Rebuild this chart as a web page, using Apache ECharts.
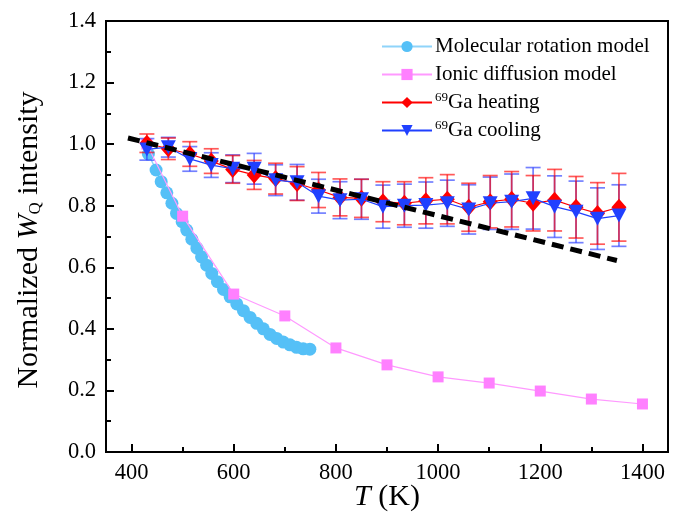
<!DOCTYPE html>
<html><head><meta charset="utf-8">
<script src="https://cdn.jsdelivr.net/npm/echarts@6/dist/echarts.min.js"></script>
<style>html,body{margin:0;padding:0;background:#fff}#c{width:681px;height:521px}</style>
</head><body><div id="c"></div>
<script>
// ---- data ----
const rotT = [433,448,458,469,479,488,499,508,518,528,537,547,557,568,580,593,606,619,632,645,658,671,684,697,710,723,736,749];
const rotV = [0.968,0.916,0.878,0.842,0.808,0.775,0.748,0.721,0.691,0.662,0.634,0.607,0.580,0.553,0.528,0.504,0.481,0.459,0.437,0.418,0.400,0.382,0.369,0.357,0.348,0.340,0.335,0.334];
const ionT = [430,500,600,700,800,900,1000,1100,1200,1300,1400];
const ionV = [1.0,0.766,0.513,0.442,0.338,0.283,0.244,0.224,0.198,0.172,0.156];
const gaT = [430,472,514,556,598,640,682,724,766,808,850,892,934,976,1018,1060,1102,1144,1186,1228,1270,1312,1354];
const heatV = [1.003,0.985,0.968,0.945,0.918,0.900,0.888,0.872,0.851,0.827,0.824,0.813,0.808,0.816,0.821,0.795,0.813,0.821,0.808,0.818,0.795,0.775,0.795];
const heatErr = [0.03,0.035,0.04,0.04,0.045,0.047,0.05,0.055,0.057,0.06,0.062,0.065,0.07,0.075,0.08,0.078,0.085,0.09,0.09,0.1,0.1,0.1,0.11];
const coolV = [0.983,0.990,0.952,0.932,0.920,0.920,0.883,0.876,0.831,0.818,0.821,0.797,0.800,0.802,0.808,0.788,0.808,0.813,0.824,0.797,0.780,0.758,0.768];
const coolErr = [0.035,0.032,0.04,0.04,0.045,0.05,0.05,0.058,0.055,0.06,0.065,0.07,0.07,0.075,0.075,0.08,0.085,0.09,0.1,0.1,0.1,0.1,0.1];
const fitT = [393,1350];
const fitV = [1.02,0.622];
const xMajor = [400,600,800,1000,1200,1400];
const xMinor = [500,700,900,1100,1300];

const FONT = 'Liberation Serif';
const chart = echarts.init(document.getElementById('c'), null, {renderer:'canvas'});

function pairs(xs, ys){ return xs.map((x,i)=>[x, ys[i]]); }
function errData(xs, ys, es){ return xs.map((x,i)=>[x, ys[i]-es[i], ys[i]+es[i]]); }
function errSeries(data, color, z){
  return {
    type:'custom', data:data, z:z, silent:true,
    renderItem:function(params, api){
      const x = api.value(0);
      const lo = api.coord([x, api.value(1)]);
      const hi = api.coord([x, api.value(2)]);
      const w = 7.5;
      const st = {stroke:color, lineWidth:1.7};
      return {type:'group', children:[
        {type:'line', shape:{x1:lo[0],y1:lo[1],x2:hi[0],y2:hi[1]}, style:st},
        {type:'line', shape:{x1:lo[0]-w,y1:lo[1],x2:lo[0]+w,y2:lo[1]}, style:st},
        {type:'line', shape:{x1:hi[0]-w,y1:hi[1],x2:hi[0]+w,y2:hi[1]}, style:st}
      ]};
    }
  };
}

const option = {
  animation:false,
  backgroundColor:'#fff',
  grid:{left:106, right:13, top:21, bottom:69, show:true, borderColor:'#000', borderWidth:2, backgroundColor:'transparent',
        outerBoundsMode:'none', containLabel:false},
  legend:{
    left:376, top:30, orient:'vertical', itemWidth:50, itemHeight:14, itemGap:5,
    data:['Molecular rotation model','Ionic diffusion model','69Ga heating','69Ga cooling'],
    formatter:function(n){
      if(n.indexOf('69')===0) return '{sup|69}{n|'+n.slice(2)+'}';
      return '{n|'+n+'}';
    },
    textStyle:{fontFamily:FONT, fontSize:21, color:'#000', lineHeight:23, padding:[0,0,0,-2],
      rich:{n:{fontFamily:FONT,fontSize:21,color:'#000',lineHeight:23},
            sup:{fontFamily:FONT,fontSize:13,color:'#000',lineHeight:13,verticalAlign:'top'}}}
  },
  xAxis:[{
    type:'value', min:350, max:1450,
    name:'{i|T} (K)', nameLocation:'middle', nameGap:30, nameMoveOverlap:false,
    nameTextStyle:{fontFamily:FONT, fontSize:30, color:'#000',
      rich:{i:{fontFamily:FONT,fontSize:30,fontStyle:'italic',color:'#000'}}},
    axisLine:{show:true, onZero:false, lineStyle:{color:'#000', width:2}},
    axisTick:{show:true, inside:true, length:8, lineStyle:{color:'#000', width:2}, customValues:xMajor},
    axisLabel:{fontFamily:FONT, fontSize:22.5, color:'#000', margin:10, customValues:xMajor, formatter:v=>String(v)},
    splitLine:{show:false}
  },{
    type:'value', min:350, max:1450, position:'bottom', gridIndex:0,
    axisLine:{show:false},
    axisTick:{show:true, inside:true, length:5, lineStyle:{color:'#000', width:2}, customValues:xMinor},
    axisLabel:{show:false, customValues:xMinor},
    splitLine:{show:false}
  }],
  yAxis:{
    type:'value', min:0, max:1.4, interval:0.2,
    axisLine:{show:true, lineStyle:{color:'#000', width:2}},
    axisTick:{show:true, inside:true, length:8, lineStyle:{color:'#000', width:2}},
    minorTick:{show:true, splitNumber:2, length:5, lineStyle:{color:'#000', width:2}},
    axisLabel:{fontFamily:FONT, fontSize:22.5, color:'#000', margin:10, formatter:v=>v.toFixed(1)},
    splitLine:{show:false}
  },
  graphic:[{
    type:'text', x:28, y:240, rotation:Math.PI/2, z:100,
    style:{text:'{n|Normalized }{i|W}{s|Q}{n| intensity}', align:'center', verticalAlign:'middle',
      rich:{n:{fontFamily:FONT,fontSize:30,color:'#000',verticalAlign:'bottom',lineHeight:32},
            i:{fontFamily:FONT,fontSize:30,fontStyle:'italic',color:'#000',verticalAlign:'bottom',lineHeight:32},
            s:{fontFamily:FONT,fontSize:17,color:'#000',verticalAlign:'bottom',lineHeight:32,padding:[10,0,0,0]}}}
  }],
  series:[
    {name:'Molecular rotation model', type:'line', data:pairs(rotT,rotV), symbol:'circle', symbolSize:13,
     itemStyle:{color:'#55c0f7'}, lineStyle:{color:'#8fd4fa', width:1.5}, z:3},
    {name:'Ionic diffusion model', type:'line', data:pairs(ionT,ionV), symbol:'rect', symbolSize:11,
     itemStyle:{color:'#ff80ff'}, lineStyle:{color:'#ff99ff', width:1.2}, z:4},
    errSeries(errData(gaT,coolV,coolErr),'rgba(40,60,255,0.65)',5),
    errSeries(errData(gaT,heatV,heatErr),'rgba(255,0,0,0.65)',5),
    {name:'69Ga heating', type:'line', data:pairs(gaT,heatV), symbol:'diamond', symbolSize:[15,17],
     itemStyle:{color:'#ff0000'}, lineStyle:{color:'#ff0000', width:1.2}, z:6},
    {name:'69Ga cooling', type:'line', data:pairs(gaT,coolV), symbol:'triangle', symbolRotate:180, symbolSize:[15,14],
     itemStyle:{color:'#2040ff'}, lineStyle:{color:'#2040ff', width:1.2}, z:7},
    {name:'fit', type:'line', data:pairs(fitT,fitV), symbol:'none',
     lineStyle:{color:'#000', width:5, type:[12,7]}, z:9}
  ]
};
chart.setOption(option);
</script></body></html>
